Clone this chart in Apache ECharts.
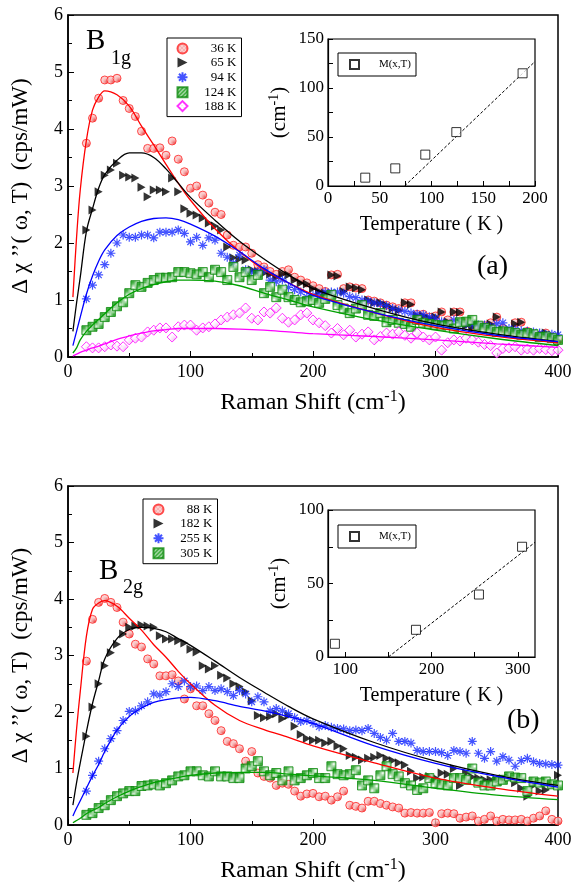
<!DOCTYPE html>
<html>
<head>
<meta charset="utf-8">
<script src="https://cdn.jsdelivr.net/npm/echarts/dist/echarts.min.js"></script>
<style>
  html, body { margin: 0; padding: 0; background: #fff; }
  #main { width: 575px; height: 884px; }
</style>
</head>
<body>
<div id="main"></div>
<script>
// Raman shift positions of the measured points (cm-1)
var shift = [15,20,25,30,35,40,45,50,55,60,65,70,75,80,85,90,95,100,105,110,
  115,120,125,130,135,140,145,150,155,160,165,170,175,180,185,190,195,200,205,210,
  215,220,225,230,235,240,245,250,255,260,265,270,275,280,285,290,295,300,305,310,
  315,320,325,330,335,340,345,350,355,360,365,370,375,380,385,390,395,400];

// (a) B1g spectra
var b1g36 = [3.75,4.19,4.54,4.86,4.86,4.89,4.5,4.36,4.22,3.96,
  3.66,3.66,3.67,3.54,3.79,3.47,3.25,2.96,3.0,2.84,
  2.7,2.54,2.5,2.14,1.96,1.93,1.93,1.82,1.62,1.58,
  1.5,1.45,1.5,1.53,1.4,1.35,1.3,1.25,1.2,1.15,
  1.44,1.45,1.2,1.23,1.21,1.2,1.0,0.98,0.95,0.91,
  0.88,0.85,0.95,0.95,0.75,0.75,0.7,0.72,0.79,0.65,
  0.79,0.79,0.6,0.55,0.55,0.55,0.6,0.7,0.5,0.45,
  0.6,0.61,0.45,0.4,0.38,0.42,0.35,0.3];
var b1g65 = [2.23,2.58,2.9,3.19,3.28,3.4,3.19,3.16,3.14,2.98,
  2.81,2.93,2.93,2.9,3.14,2.9,2.6,2.52,2.49,2.44,
  2.35,2.3,2.23,1.93,1.74,1.72,1.70,1.53,1.5,1.47,
  1.45,1.4,1.45,1.44,1.35,1.3,1.28,1.2,1.15,1.12,
  1.44,1.42,1.15,1.23,1.21,1.18,1.0,0.95,0.95,0.91,
  0.85,0.82,0.95,0.92,0.72,0.72,0.68,0.7,0.79,0.62,
  0.79,0.78,0.55,0.52,0.52,0.55,0.58,0.7,0.48,0.42,
  0.58,0.61,0.42,0.38,0.35,0.42,0.33,0.28];
var b1g94 = [1.02,1.26,1.44,1.62,1.82,2.0,2.14,2.1,2.1,2.14,
  2.14,2.09,2.19,2.19,2.19,2.23,2.17,2.02,2.1,1.96,
  2.09,2.05,1.82,1.75,1.65,1.79,1.53,1.49,1.5,1.53,
  1.35,1.32,1.35,1.22,1.18,1.14,1.05,1.08,1.1,1.14,
  1.14,1.14,1.12,1.06,1.04,1.0,0.98,0.95,0.93,0.9,
  0.85,0.82,0.8,0.77,0.75,0.74,0.7,0.68,0.62,0.56,
  0.65,0.6,0.58,0.57,0.56,0.56,0.52,0.58,0.6,0.5,
  0.48,0.46,0.45,0.44,0.42,0.4,0.4,0.39];
var b1g124 = [0.47,0.53,0.58,0.7,0.79,0.89,0.96,1.12,1.26,1.23,
  1.3,1.35,1.39,1.39,1.4,1.49,1.49,1.47,1.45,1.49,
  1.4,1.53,1.49,1.35,1.58,1.4,1.49,1.35,1.44,1.12,
  1.23,1.05,1.18,1.05,1.0,0.96,0.98,1.0,0.95,1.02,
  1.09,0.91,0.85,0.77,0.85,0.91,0.74,0.72,0.77,0.61,
  0.65,0.6,0.58,0.53,0.65,0.6,0.58,0.56,0.55,0.56,
  0.5,0.61,0.62,0.65,0.55,0.51,0.48,0.44,0.45,0.44,
  0.42,0.39,0.42,0.4,0.35,0.36,0.33,0.3];
var b1g188 = [0.18,0.16,0.16,0.18,0.21,0.19,0.18,0.3,0.33,0.35,
  0.44,0.47,0.51,0.51,0.35,0.53,0.56,0.56,0.47,0.51,
  0.53,0.58,0.65,0.7,0.74,0.77,0.86,0.68,0.65,0.79,
  0.77,0.86,0.68,0.61,0.65,0.74,0.77,0.65,0.6,0.55,
  0.42,0.5,0.39,0.47,0.35,0.4,0.44,0.3,0.36,0.42,
  0.4,0.44,0.38,0.33,0.42,0.35,0.3,0.35,0.12,0.25,
  0.3,0.28,0.33,0.3,0.26,0.22,0.2,0.07,0.15,0.16,
  0.18,0.12,0.14,0.12,0.15,0.13,0.11,0.12];

// (b) B2g spectra
var b2g88 = [2.9,3.64,3.94,4.01,3.94,3.85,3.59,3.38,3.2,3.15,
  2.94,2.85,2.64,2.64,2.66,2.55,2.23,2.41,2.11,2.11,
  1.97,1.85,1.67,1.48,1.44,1.35,1.13,1.3,0.92,0.86,
  0.83,0.7,0.74,0.72,0.6,0.51,0.55,0.56,0.5,0.51,
  0.44,0.5,0.6,0.35,0.33,0.3,0.42,0.42,0.38,0.35,
  0.32,0.3,0.21,0.22,0.21,0.21,0.22,0.04,0.2,0.21,
  0.2,0.12,0.14,0.16,0.07,0.1,0.16,0.07,0.1,0.09,
  0.09,0.1,0.07,0.12,0.16,0.25,0.1,0.07];
var b2g182 = [1.57,2.09,2.5,2.82,3.05,3.2,3.38,3.5,3.52,3.54,
  3.52,3.5,3.35,3.29,3.29,3.26,3.22,3.11,3.06,2.82,
  2.76,2.82,2.65,2.6,2.5,2.45,2.36,2.2,1.94,1.9,
  1.92,1.97,1.88,1.94,1.75,1.6,1.53,1.5,1.5,1.45,
  1.48,1.4,1.35,1.23,1.2,1.15,1.18,1.2,1.23,1.18,
  1.14,1.1,1.06,0.95,0.83,0.85,0.86,0.83,0.92,0.9,
  1.0,0.7,0.92,0.85,0.83,0.8,0.8,0.79,0.82,0.83,
  0.75,0.65,0.51,0.7,0.6,0.62,0.7,0.88];
var b2g255 = [0.6,0.88,1.13,1.35,1.53,1.67,1.85,2.01,2.02,2.11,
  2.18,2.32,2.3,2.36,2.5,2.45,2.55,2.45,2.46,2.38,
  2.45,2.38,2.41,2.36,2.29,2.38,2.32,2.18,2.27,2.18,
  2.02,2.06,2.02,1.97,1.9,1.83,1.85,1.8,1.74,1.76,
  1.73,1.71,1.7,1.67,1.68,1.67,1.71,1.62,1.55,1.5,
  1.62,1.48,1.48,1.45,1.32,1.3,1.3,1.3,1.28,1.23,
  1.32,1.3,1.27,1.48,1.27,1.18,1.3,1.13,1.21,1.15,
  1.04,1.14,1.18,1.12,1.09,1.08,1.07,1.06];
var b2g305 = [0.18,0.21,0.3,0.35,0.44,0.51,0.56,0.6,0.6,0.69,
  0.7,0.72,0.7,0.74,0.79,0.86,0.88,0.95,0.95,0.88,
  0.86,0.95,0.86,0.86,0.83,0.83,1.0,1.04,1.13,0.95,
  0.88,0.92,0.79,0.95,0.79,0.83,0.88,0.92,0.83,0.83,
  1.04,0.9,0.88,0.9,0.97,0.7,0.79,0.65,0.88,1.04,
  0.9,0.86,0.74,0.7,0.62,0.65,0.83,0.74,0.72,0.7,
  0.83,0.83,0.8,1.0,0.75,0.7,0.7,0.77,0.8,0.86,
  0.84,0.83,0.6,0.77,0.75,0.77,0.72,0.7];

// fitted curves
var fitX = [4,7,10,15,20,25,30,40,50,60,70,80,90,100,120,140,160,180,200,250,300,350,400];
var fit36 = [1.05,2.1,2.93,3.8,4.33,4.56,4.67,4.6,4.4,4.05,3.72,3.38,3.05,2.75,2.25,1.85,1.53,1.3,1.1,0.78,0.52,0.36,0.25];
var fit65 = [0.45,0.95,1.4,2.2,2.6,2.96,3.2,3.45,3.58,3.58,3.5,3.3,3.05,2.8,2.4,2.03,1.72,1.44,1.2,0.85,0.58,0.4,0.27];
var fit94 = [0.2,0.45,0.7,1.1,1.42,1.68,1.88,2.13,2.28,2.38,2.43,2.44,2.41,2.33,2.12,1.85,1.55,1.3,1.08,0.78,0.55,0.38,0.27];
var fit124 = [0.07,0.16,0.3,0.45,0.56,0.66,0.76,0.95,1.1,1.2,1.27,1.32,1.35,1.35,1.33,1.25,1.12,1.0,0.88,0.65,0.47,0.32,0.2];
var fit188 = [0.02,0.05,0.08,0.12,0.16,0.19,0.23,0.31,0.37,0.42,0.46,0.48,0.5,0.5,0.5,0.49,0.47,0.44,0.41,0.36,0.3,0.23,0.17];
var fit88 = [0.92,1.7,2.36,3.34,3.82,3.93,3.97,3.87,3.66,3.45,3.19,2.97,2.72,2.5,2.12,1.85,1.69,1.55,1.4,1.1,0.83,0.65,0.51];
var fit182 = [0.35,0.75,1.1,1.65,2.15,2.55,2.94,3.3,3.46,3.5,3.48,3.42,3.3,3.18,2.9,2.61,2.35,2.1,1.88,1.46,1.13,0.88,0.7];
var fit255 = [0.16,0.3,0.43,0.65,0.87,1.07,1.3,1.68,1.92,2.07,2.17,2.22,2.25,2.26,2.2,2.1,2.02,1.92,1.8,1.4,1.09,0.86,0.67];
var fit305 = [0.04,0.08,0.12,0.2,0.26,0.31,0.38,0.5,0.6,0.68,0.75,0.8,0.84,0.88,0.92,0.93,0.93,0.9,0.87,0.79,0.65,0.53,0.45];

// insets: M(x,T) vs temperature
var tempA = [36, 65, 94, 124, 188];
var massA = [8.5, 18, 32, 55, 115];
var lineAX = [74, 200];
var lineAY = [0, 127];
var tempB = [88, 182, 255, 305];
var massB = [9, 18.5, 42.5, 75];
var lineBX = [150, 320];
var lineBY = [0, 78];

var FONT = 'Liberation Serif';

function pts(xs, ys) {
    var out = [];
    for (var i = 0; i < xs.length; i++) out.push([xs[i], ys[i]]);
    return out;
}

// small repeating fills that imitate the hatched markers
function pattern(bg, fg, kind) {
    var c = document.createElement('canvas');
    c.width = 4; c.height = 4;
    var g = c.getContext('2d');
    g.fillStyle = bg;
    g.fillRect(0, 0, 4, 4);
    g.fillStyle = fg;
    if (kind === 'dots') {
        g.fillRect(0, 0, 1, 1);
        g.fillRect(2, 2, 1, 1);
    } else {
        for (var i = 0; i < 4; i++) g.fillRect(i, 3 - i, 1, 1);
    }
    return {image: c, repeat: 'repeat'};
}

var redFill = pattern('#f9c4c4', '#e83030', 'dots');
var greenFill = pattern('#129a12', '#ffffff', 'diag');
var pinkFill = pattern('#ffffff', '#f2a6f2', 'dots');
var STAR = 'path://M0,-10L0,10M-10,0L10,0M-7,-7L7,7M-7,7L7,-7';
var RIGHT_TRI = 'path://M0,0L10,5L0,10Z';

var styles = {
    red: {symbol: 'circle', symbolSize: 8, itemStyle: {color: redFill, borderColor: '#ff2020', borderWidth: 1}},
    black: {symbol: RIGHT_TRI, symbolSize: [8, 9], itemStyle: {color: '#000', borderColor: '#000', borderWidth: 0}},
    blue: {symbol: STAR, symbolSize: 9, itemStyle: {color: 'none', borderColor: '#1428ff', borderWidth: 1.2}},
    green: {symbol: 'rect', symbolSize: 9, itemStyle: {color: greenFill, borderColor: '#0e8a0e', borderWidth: 1}},
    magenta: {symbol: 'diamond', symbolSize: 10, itemStyle: {color: pinkFill, borderColor: '#ff00ff', borderWidth: 1}}
};

function scatter(name, ax, ys, st) {
    return {
        name: name, type: 'scatter', xAxisIndex: ax, yAxisIndex: ax,
        data: pts(shift, ys), symbol: st.symbol, symbolSize: st.symbolSize,
        itemStyle: st.itemStyle, z: 2
    };
}

function fit(ax, ys, color) {
    return {
        name: 'fit', type: 'line', xAxisIndex: ax, yAxisIndex: ax,
        data: pts(fitX, ys), showSymbol: false, smooth: 0.35, silent: true,
        lineStyle: {color: color, width: 1.3}, z: 5
    };
}

function mainX(gi) {
    return {
        gridIndex: gi, type: 'value', min: 0, max: 400, interval: 100,
        axisLine: {onZero: false, lineStyle: {color: '#000', width: 1.5}},
        axisTick: {inside: true, length: 6, lineStyle: {color: '#000'}},
        minorTick: {show: true, splitNumber: 2, length: 4, lineStyle: {color: '#000'}},
        axisLabel: {color: '#000', fontFamily: FONT, fontSize: 18, margin: 6},
        splitLine: {show: false},
        name: '{a|Raman Shift (cm}{s|-1}{a|)}', nameLocation: 'middle', nameGap: 32,
        nameTextStyle: {rich: {
            a: {fontFamily: FONT, fontSize: 24, color: '#000', lineHeight: 28},
            s: {fontFamily: FONT, fontSize: 16, color: '#000', verticalAlign: 'top', lineHeight: 14}
        }}
    };
}

function mainY(gi) {
    return {
        gridIndex: gi, type: 'value', min: 0, max: 6, interval: 1,
        axisLine: {onZero: false, lineStyle: {color: '#000', width: 1.5}},
        axisTick: {inside: true, length: 6, lineStyle: {color: '#000'}},
        minorTick: {show: true, splitNumber: 2, length: 4, lineStyle: {color: '#000'}},
        axisLabel: {color: '#000', fontFamily: FONT, fontSize: 18, margin: 5},
        splitLine: {show: false},
        name: 'Δ χ ’’( ω, T)  (cps/mW)', nameLocation: 'middle', nameGap: 36,
        nameTextStyle: {fontFamily: FONT, fontSize: 23, color: '#000'}
    };
}

function insetX(gi, min, max, ticks, labels) {
    return {
        gridIndex: gi, type: 'value', min: min, max: max,
        axisLine: {onZero: false, lineStyle: {color: '#000', width: 1.2}},
        axisTick: {inside: true, length: 5, customValues: ticks, lineStyle: {color: '#000'}},
        axisLabel: {color: '#000', fontFamily: FONT, fontSize: 17, margin: 4, customValues: labels},
        splitLine: {show: false},
        name: 'Temperature ( K )', nameLocation: 'middle', nameGap: 29,
        nameTextStyle: {fontFamily: FONT, fontSize: 20, color: '#000'}
    };
}

function insetY(gi, max) {
    return {
        gridIndex: gi, type: 'value', min: 0, max: max, interval: 50,
        axisLine: {onZero: false, lineStyle: {color: '#000', width: 1.2}},
        axisTick: {inside: true, length: 5, lineStyle: {color: '#000'}},
        minorTick: {show: true, splitNumber: 2, length: 5, lineStyle: {color: '#000'}},
        axisLabel: {color: '#000', fontFamily: FONT, fontSize: 17, margin: 4},
        splitLine: {show: false},
        name: '{a|(cm}{s|-1}{a|)}', nameLocation: 'middle', nameGap: 37,
        nameTextStyle: {rich: {
            a: {fontFamily: FONT, fontSize: 21, color: '#000', lineHeight: 24},
            s: {fontFamily: FONT, fontSize: 14, color: '#000', verticalAlign: 'top', lineHeight: 13}
        }}
    };
}

// legend rows are 14 px apart in the picture
function legendBox(names, left, top, w) {
    return {
        data: names, orient: 'vertical', left: left, top: top,
        itemWidth: 10, itemHeight: 10, itemGap: 0.9, padding: [4, 5, 4, 8],
        borderColor: '#000', borderWidth: 1, backgroundColor: '#fff',
        formatter: '{r|{name}}',
        textStyle: {
            fontFamily: FONT, fontSize: 13, color: '#000',
            rich: {r: {width: w, align: 'right', fontFamily: FONT, fontSize: 13, color: '#000'}}
        }
    };
}

function insetLegend(left, top) {
    return {
        data: ['M(x,T)'], orient: 'vertical', left: left, top: top,
        itemWidth: 9, itemHeight: 9, padding: [6, 5, 6, 11],
        borderColor: '#000', borderWidth: 1, backgroundColor: '#fff',
        formatter: '{r|{name}}',
        textStyle: {
            fontFamily: FONT, fontSize: 11, color: '#000',
            rich: {r: {width: 47, align: 'right', fontFamily: FONT, fontSize: 11, color: '#000'}}
        }
    };
}

var boxStyle = {symbol: 'rect', symbolSize: 9, itemStyle: {color: '#fff', borderColor: '#000', borderWidth: 1}};

var myChart = echarts.init(document.getElementById('main'), null, {renderer: 'canvas'});

var option = {
    animation: false,
    backgroundColor: '#fff',
    grid: [
        {left: 68, top: 15, width: 490, height: 342, show: true, borderColor: '#000', borderWidth: 1.5},
        {left: 328, top: 39, width: 207, height: 147, show: true, borderColor: '#000', borderWidth: 1.2, backgroundColor: '#fff'},
        {left: 68, top: 486, width: 490, height: 341, show: true, borderColor: '#000', borderWidth: 1.5},
        {left: 328, top: 510, width: 207, height: 147, show: true, borderColor: '#000', borderWidth: 1.2, backgroundColor: '#fff'}
    ],
    xAxis: [
        mainX(0),
        insetX(1, 0, 200, [0, 25, 50, 75, 100, 125, 150, 175, 200], [0, 50, 100, 150, 200]),
        mainX(2),
        insetX(3, 80, 320, [100, 150, 200, 250, 300], [100, 200, 300])
    ],
    yAxis: [mainY(0), insetY(1, 150), mainY(2), insetY(3, 100)],
    legend: [
        legendBox(['36 K', '65 K', '94 K', '124 K', '188 K'], 167, 38, 44),
        legendBox(['88 K', '182 K', '255 K', '305 K'], 143, 499, 44),
        insetLegend(338, 53),
        insetLegend(338, 525)
    ],
    graphic: [
        {type: 'text', left: 86, top: 27, style: {text: 'B', font: '29px "Liberation Serif"', fill: '#000'}},
        {type: 'text', left: 111, top: 49, style: {text: '1g', font: '20px "Liberation Serif"', fill: '#000'}},
        {type: 'text', left: 99, top: 557, style: {text: 'B', font: '29px "Liberation Serif"', fill: '#000'}},
        {type: 'text', left: 123, top: 578, style: {text: '2g', font: '20px "Liberation Serif"', fill: '#000'}},
        {type: 'text', left: 477, top: 253, style: {text: '(a)', font: '28px "Liberation Serif"', fill: '#000'}},
        {type: 'text', left: 507, top: 707, style: {text: '(b)', font: '28px "Liberation Serif"', fill: '#000'}}
    ],
    series: [
        scatter('36 K', 0, b1g36, styles.red),
        scatter('65 K', 0, b1g65, styles.black),
        scatter('94 K', 0, b1g94, styles.blue),
        scatter('124 K', 0, b1g124, styles.green),
        scatter('188 K', 0, b1g188, styles.magenta),
        fit(0, fit36, '#ff0000'),
        fit(0, fit65, '#000000'),
        fit(0, fit94, '#0000ff'),
        fit(0, fit124, '#00a000'),
        fit(0, fit188, '#ff00ff'),
        scatter('88 K', 2, b2g88, styles.red),
        scatter('182 K', 2, b2g182, styles.black),
        scatter('255 K', 2, b2g255, styles.blue),
        scatter('305 K', 2, b2g305, styles.green),
        fit(2, fit88, '#ff0000'),
        fit(2, fit182, '#000000'),
        fit(2, fit255, '#0000ff'),
        fit(2, fit305, '#00a000'),
        {name: 'M(x,T)', type: 'scatter', xAxisIndex: 1, yAxisIndex: 1, data: pts(tempA, massA),
            symbol: boxStyle.symbol, symbolSize: boxStyle.symbolSize, itemStyle: boxStyle.itemStyle, z: 4},
        {name: 'lineA', type: 'line', xAxisIndex: 1, yAxisIndex: 1, data: pts(lineAX, lineAY),
            showSymbol: false, lineStyle: {color: '#000', width: 1, type: [3, 2]}, z: 3},
        {name: 'M(x,T)', type: 'scatter', xAxisIndex: 3, yAxisIndex: 3, data: pts(tempB, massB),
            symbol: boxStyle.symbol, symbolSize: boxStyle.symbolSize, itemStyle: boxStyle.itemStyle, z: 4},
        {name: 'lineB', type: 'line', xAxisIndex: 3, yAxisIndex: 3, data: pts(lineBX, lineBY),
            showSymbol: false, lineStyle: {color: '#000', width: 1, type: [3, 2]}, z: 3}
    ]
};

myChart.setOption(option);
</script>
</body>
</html>
